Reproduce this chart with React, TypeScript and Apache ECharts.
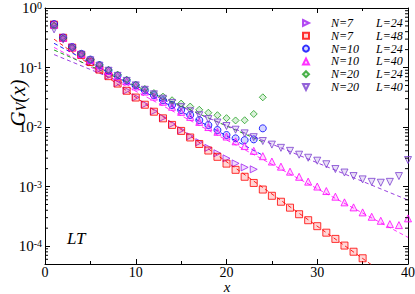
import React, { useEffect, useRef } from "react";
import * as echarts from "echarts";

const FONT = '"Liberation Serif", "Times New Roman", serif';

// x = 1, 2, 3, ... for every series
const gN7L24 = [0.531, 0.32, 0.219, 0.164, 0.126, 0.0933, 0.0724, 0.0543, 0.0412, 0.0316, 0.024, 0.0184, 0.0143, 0.0112, 0.00887, 0.007, 0.00556, 0.00447, 0.00363, 0.00298, 0.00245, 0.0021, 0.00195];
const gN7L48 = [0.525, 0.316, 0.216, 0.162, 0.124, 0.0923, 0.0716, 0.0537, 0.0407, 0.0313, 0.0237, 0.0181, 0.014, 0.01086, 0.00861, 0.00668, 0.00519, 0.00403, 0.00316, 0.00243, 0.00191, 0.00146, 0.00115, 0.000891, 0.0007, 0.000556, 0.000442, 0.000343, 0.000272, 0.000216, 0.000168, 0.000132, 0.000102, 0.0000804, 0.0000624];
const gN10L24 = [0.537, 0.32, 0.221, 0.17, 0.136, 0.11, 0.0891, 0.0733, 0.0603, 0.0501, 0.0412, 0.0343, 0.0282, 0.0234, 0.0193, 0.0159, 0.0131, 0.0108, 0.00891, 0.00735, 0.00646, 0.00603, 0.00621, 0.00951];
const gN10L40 = [0.519, 0.316, 0.219, 0.168, 0.134, 0.108, 0.0875, 0.0716, 0.0586, 0.0481, 0.0394, 0.0324, 0.0266, 0.0219, 0.018, 0.0148, 0.0122, 0.01, 0.00832, 0.00692, 0.00575, 0.00479, 0.00398, 0.00324, 0.00263, 0.00216, 0.00178, 0.00146, 0.00121, 0.001, 0.000841, 0.000676, 0.000543, 0.000447, 0.000368, 0.000311, 0.000266, 0.000234, 0.000225, 0.000292];
const gN20L24 = [0.501, 0.309, 0.216, 0.168, 0.136, 0.111, 0.0912, 0.0759, 0.0624, 0.0513, 0.0437, 0.0372, 0.0324, 0.0282, 0.0248, 0.0221, 0.0195, 0.0174, 0.0158, 0.0141, 0.0129, 0.013, 0.0166, 0.0316];
const gN20L40 = [0.437, 0.295, 0.209, 0.164, 0.132, 0.107, 0.0881, 0.0724, 0.0596, 0.0501, 0.0422, 0.0355, 0.0299, 0.0254, 0.0216, 0.0184, 0.0158, 0.0136, 0.0119, 0.0104, 0.00902, 0.00783, 0.00676, 0.00582, 0.00507, 0.00447, 0.00398, 0.00343, 0.00305, 0.00272, 0.00237, 0.00197, 0.00172, 0.0015, 0.00132, 0.0012, 0.00116, 0.0012, 0.0015, 0.00279];

// fitted exponential lines: [x, G] end points
const fitN7L48 = [[1, 0.299], [36, 4.83e-5]];
const fitN10L24 = [[1, 0.255], [24, 0.00336]];
const fitN10L40 = [[1, 0.218], [40, 0.00014]];
const fitN20L24 = [[1, 0.197], [24, 0.00562]];
const fitN20L40 = [[1, 0.165], [40, 0.000593]];

const names = ["N=7 L=24", "N=7 L=48", "N=10 L=24", "N=10 L=40", "N=20 L=24", "N=20 L=40"];
const values = [gN7L24, gN7L48, gN10L24, gN10L40, gN20L24, gN20L40];
const colors = ["#a020f0", "#ff0000", "#0000ff", "#ff00ff", "#1f9f1f", "#7a3fd0"];
const symbols = [
  "path://M0,0L10,5L0,10Z",
  "rect",
  "circle",
  "triangle",
  "diamond",
  "path://M0,0L10,0L5,10Z",
];
const fits = [
  { data: fitN7L48, color: "#ff2020" },
  { data: fitN10L24, color: "#2020ff" },
  { data: fitN10L40, color: "#ff30ff" },
  { data: fitN20L24, color: "#1f9f1f" },
  { data: fitN20L40, color: "#9a40e0" },
];

const xTicks = { min: 0, max: 40, interval: 10 };
const yRange = { min: 5e-5, max: 1 };

const minorY: number[] = [];
for (let e = -5; e < 0; e++) {
  for (let k = 2; k <= 9; k++) {
    const v = k * Math.pow(10, e);
    if (v > yRange.min && v < yRange.max) minorY.push(v);
  }
}

function rgba(hex: string, a: number) {
  const n = parseInt(hex.slice(1), 16);
  return `rgba(${(n >> 16) & 255},${(n >> 8) & 255},${n & 255},${a})`;
}

export default function App() {
  const ref = useRef<HTMLDivElement>(null);
  useEffect(() => {
    document.body.style.margin = "0";
    if (!ref.current) return;
    const chart = echarts.init(ref.current, undefined, { renderer: "svg" });
    const axisCommon = {
      axisLine: { show: true, onZero: false, lineStyle: { color: "#000", width: 1 } },
      axisTick: { show: true, inside: true, length: 5, lineStyle: { color: "#000", width: 1 } },
      splitLine: { show: false },
    };
    const scatter = names.map((name, i) => ({
      name,
      type: "scatter",
      symbol: symbols[i],
      symbolSize: 7,
      symbolKeepAspect: true,
      data: values[i].map((v, j) => [j + 1, v]),
      itemStyle: { color: rgba(colors[i], 0.2), borderColor: colors[i], borderWidth: 1 },
      z: 3,
      silent: true,
    }));
    const fitSeries = fits.map((f) => ({
      type: "line",
      data: f.data,
      symbol: "none",
      clip: true,
      lineStyle: { color: f.color, width: 1, type: [4, 3] },
      z: 2,
      silent: true,
    }));
    const minorSeries = {
      type: "custom",
      silent: true,
      clip: false,
      z: 5,
      data: minorY.map((v) => [xTicks.min, v]),
      renderItem: (_p: any, api: any) => {
        const v = api.value(1);
        const l = api.coord([xTicks.min, v]);
        const r = api.coord([xTicks.max, v]);
        return {
          type: "group",
          children: [
            { type: "line", shape: { x1: l[0], y1: l[1], x2: l[0] + 3, y2: l[1] }, style: { stroke: "#000", lineWidth: 1 } },
            { type: "line", shape: { x1: r[0] - 3, y1: r[1], x2: r[0], y2: r[1] }, style: { stroke: "#000", lineWidth: 1 } },
          ],
        };
      },
    };
    const yFormatter = (v: number) => {
      const lg = Math.log10(v);
      const e = Math.round(lg);
      if (Math.abs(lg - e) > 1e-6) return "";
      return `{b|10}{s|${e}}`;
    };
    const legendText = {
      color: "#000",
      fontFamily: FONT,
      fontStyle: "italic",
      fontSize: 12,
      lineHeight: 11.5,
    };
    chart.setOption({
      animation: false,
      grid: { left: 45, right: 7, top: 8, bottom: 30, outerBoundsMode: "none" },
      xAxis: [
        {
          type: "value",
          ...xTicks,
          position: "bottom",
          ...axisCommon,
          minorTick: { show: true, splitNumber: 2, length: 3, lineStyle: { color: "#000" } },
          axisLabel: { color: "#000", fontFamily: FONT, fontSize: 14, lineHeight: 13, margin: 2 },
        },
        {
          type: "value",
          ...xTicks,
          position: "top",
          ...axisCommon,
          minorTick: { show: true, splitNumber: 2, length: 3, lineStyle: { color: "#000" } },
          axisLabel: { show: false },
        },
      ],
      yAxis: [
        {
          type: "log",
          logBase: 10,
          ...yRange,
          position: "left",
          ...axisCommon,
          axisLabel: {
            color: "#000",
            margin: 3,
            formatter: yFormatter,
            rich: {
              b: { fontFamily: FONT, fontSize: 15, lineHeight: 15, padding: [4, 0, 0, 0], verticalAlign: "bottom", color: "#000" },
              s: { fontFamily: FONT, fontSize: 10, lineHeight: 10, verticalAlign: "top", color: "#000" },
            },
          },
        },
        {
          type: "log",
          logBase: 10,
          ...yRange,
          position: "right",
          ...axisCommon,
          axisLabel: { show: false },
        },
      ],
      legend: [
        {
          data: names,
          orient: "vertical",
          left: 297,
          top: 12,
          itemWidth: 6,
          itemHeight: 6,
          itemGap: 0.8,
          selectedMode: false,
          formatter: (name: string) => name.split(" ")[0],
          textStyle: { ...legendText, padding: [0, 0, 0, 17] },
        },
        {
          data: names,
          orient: "vertical",
          left: 365,
          top: 12,
          itemWidth: 1,
          itemHeight: 6,
          itemGap: 0.8,
          selectedMode: false,
          icon: "rect",
          itemStyle: { color: "rgba(0,0,0,0)", borderColor: "rgba(0,0,0,0)", borderWidth: 0, opacity: 0 },
          formatter: (name: string) => name.split(" ")[1],
          textStyle: { ...legendText },
        },
      ],
      graphic: [
        {
          type: "text",
          left: 67,
          top: 230,
          style: { text: "LT", font: `italic 17px ${FONT}`, fill: "#000" },
        },
        {
          type: "text",
          x: 227,
          y: 287,
          style: { text: "x", font: `italic 15px ${FONT}`, lineHeight: 13, fill: "#000", align: "center", verticalAlign: "middle" },
        },
        {
          type: "text",
          x: 18,
          y: 103,
          rotation: Math.PI / 2,
          style: {
            text: "{g|G}{v|V}{g|(x)}",
            align: "center",
            verticalAlign: "middle",
            rich: {
              g: { fontFamily: FONT, fontStyle: "italic", fontSize: 21, lineHeight: 21, padding: [0, 0, 3, 0], verticalAlign: "top", fill: "#000" },
              v: { fontFamily: FONT, fontStyle: "italic", fontSize: 14, lineHeight: 14, verticalAlign: "bottom", fill: "#000" },
            },
          },
        },
      ],
      series: [...fitSeries, ...scatter, minorSeries],
    });
    return () => chart.dispose();
  }, []);
  return <div ref={ref} style={{ width: 415, height: 294 }} />;
}
